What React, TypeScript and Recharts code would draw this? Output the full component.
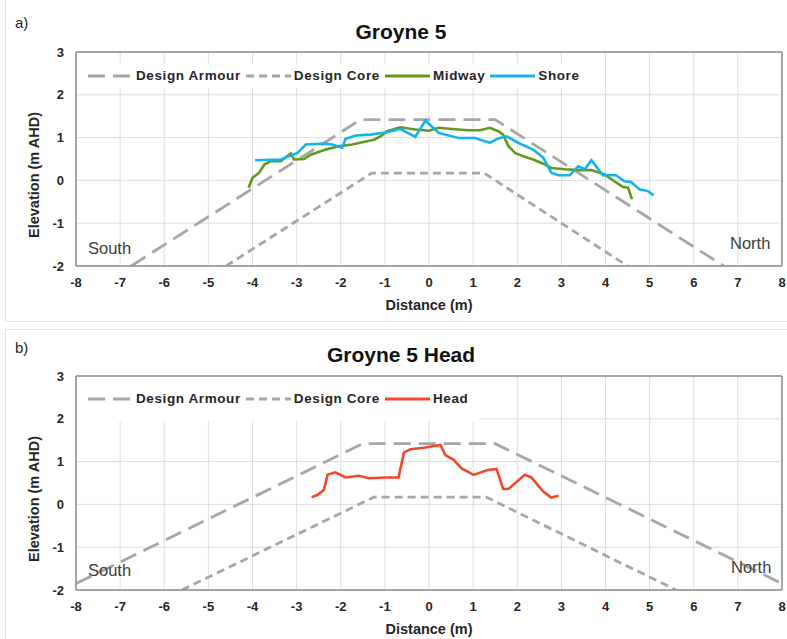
import React from "react"
import {
  CartesianGrid,
  Label,
  Line,
  LineChart,
  ReferenceLine,
  XAxis,
  YAxis,
} from "recharts"

// distance ticks (m) and elevation ticks (m AHD)
const xTicks = [-8, -7, -6, -5, -4, -3, -2, -1, 0, 1, 2, 3, 4, 5, 6, 7, 8]
const yTicks = [-2, -1, 0, 1, 2, 3]

// design profiles, panel a
const armourA = [
  { x: -6.75, y: -2 },
  { x: -1.55, y: 1.42 },
  { x: 1.5, y: 1.42 },
  { x: 6.68, y: -2 },
]
const coreA = [
  { x: -4.6, y: -2 },
  { x: -1.3, y: 0.17 },
  { x: 1.25, y: 0.17 },
  { x: 4.5, y: -2 },
]

// design profiles, panel b
const armourB = [
  { x: -8, y: -1.85 },
  { x: -1.5, y: 1.42 },
  { x: 1.5, y: 1.42 },
  { x: 8, y: -1.85 },
]
const coreB = [
  { x: -5.6, y: -2 },
  { x: -1.25, y: 0.17 },
  { x: 1.3, y: 0.17 },
  { x: 5.6, y: -2 },
]

// surveyed profiles
const midway = [
  { x: -4.09, y: -0.17 }, { x: -4.0, y: 0.06 }, { x: -3.85, y: 0.18 }, { x: -3.73, y: 0.37 },
  { x: -3.58, y: 0.45 }, { x: -3.36, y: 0.45 }, { x: -3.21, y: 0.57 }, { x: -3.13, y: 0.63 },
  { x: -3.06, y: 0.49 }, { x: -2.83, y: 0.5 }, { x: -2.68, y: 0.6 }, { x: -2.34, y: 0.72 },
  { x: -2.04, y: 0.8 }, { x: -1.74, y: 0.84 }, { x: -1.51, y: 0.89 }, { x: -1.25, y: 0.95 },
  { x: -1.1, y: 1.03 }, { x: -0.95, y: 1.15 }, { x: -0.65, y: 1.24 }, { x: -0.31, y: 1.19 },
  { x: 0.0, y: 1.16 }, { x: 0.22, y: 1.23 }, { x: 0.52, y: 1.2 }, { x: 0.89, y: 1.17 },
  { x: 1.16, y: 1.17 }, { x: 1.38, y: 1.23 }, { x: 1.57, y: 1.15 }, { x: 1.68, y: 1.07 },
  { x: 1.8, y: 0.8 }, { x: 1.95, y: 0.64 }, { x: 2.17, y: 0.55 }, { x: 2.36, y: 0.49 },
  { x: 2.59, y: 0.39 }, { x: 2.77, y: 0.29 }, { x: 3.08, y: 0.26 }, { x: 3.38, y: 0.24 },
  { x: 3.68, y: 0.24 }, { x: 3.98, y: 0.14 }, { x: 4.2, y: -0.02 }, { x: 4.39, y: -0.15 },
  { x: 4.51, y: -0.17 }, { x: 4.6, y: -0.44 },
]
const shore = [
  { x: -3.94, y: 0.47 }, { x: -3.36, y: 0.49 }, { x: -3.21, y: 0.55 }, { x: -2.98, y: 0.64 },
  { x: -2.79, y: 0.84 }, { x: -2.38, y: 0.86 }, { x: -2.19, y: 0.84 }, { x: -1.97, y: 0.76 },
  { x: -1.89, y: 0.97 }, { x: -1.66, y: 1.05 }, { x: -1.33, y: 1.07 }, { x: -0.99, y: 1.12 },
  { x: -0.65, y: 1.2 }, { x: -0.31, y: 1.02 }, { x: -0.08, y: 1.4 }, { x: 0.22, y: 1.11 },
  { x: 0.67, y: 0.99 }, { x: 1.04, y: 0.99 }, { x: 1.38, y: 0.88 }, { x: 1.57, y: 0.98 },
  { x: 1.76, y: 1.03 }, { x: 2.02, y: 0.88 }, { x: 2.36, y: 0.72 }, { x: 2.59, y: 0.53 },
  { x: 2.77, y: 0.18 }, { x: 2.93, y: 0.12 }, { x: 3.19, y: 0.12 }, { x: 3.38, y: 0.33 },
  { x: 3.53, y: 0.26 }, { x: 3.68, y: 0.47 }, { x: 3.94, y: 0.12 }, { x: 4.24, y: 0.12 },
  { x: 4.43, y: -0.02 }, { x: 4.58, y: -0.04 }, { x: 4.77, y: -0.21 }, { x: 4.96, y: -0.25 },
  { x: 5.09, y: -0.35 },
]
const head = [
  { x: -2.66, y: 0.17 }, { x: -2.53, y: 0.22 }, { x: -2.38, y: 0.34 }, { x: -2.3, y: 0.69 },
  { x: -2.12, y: 0.75 }, { x: -1.89, y: 0.63 }, { x: -1.59, y: 0.67 }, { x: -1.36, y: 0.61 },
  { x: -0.99, y: 0.63 }, { x: -0.69, y: 0.63 }, { x: -0.57, y: 1.21 }, { x: -0.42, y: 1.29 },
  { x: -0.08, y: 1.33 }, { x: 0.26, y: 1.39 }, { x: 0.37, y: 1.15 }, { x: 0.56, y: 1.04 },
  { x: 0.74, y: 0.84 }, { x: 1.01, y: 0.69 }, { x: 1.31, y: 0.8 }, { x: 1.53, y: 0.83 },
  { x: 1.68, y: 0.36 }, { x: 1.8, y: 0.36 }, { x: 2.17, y: 0.69 }, { x: 2.32, y: 0.63 },
  { x: 2.59, y: 0.3 }, { x: 2.77, y: 0.16 }, { x: 2.94, y: 0.2 },
]

const FONT = "'Liberation Sans', Arial, sans-serif"
const TEXT = "#262626"
const DESIGN = "#a6a6a6"
const ARMOUR_DASH = "17 8"
const CORE_DASH = "8 5"

type Series = { name: string; color: string; dash?: string }

const seriesA: Series[] = [
  { name: "Design Armour", color: DESIGN, dash: ARMOUR_DASH },
  { name: "Design Core", color: DESIGN, dash: CORE_DASH },
  { name: "Midway", color: "#5f9a1d" },
  { name: "Shore", color: "#14b3ec" },
]
const seriesB: Series[] = [
  { name: "Design Armour", color: DESIGN, dash: ARMOUR_DASH },
  { name: "Design Core", color: DESIGN, dash: CORE_DASH },
  { name: "Head", color: "#f4472a" },
]

function LegendBox({ items, padY, top }: { items: Series[]; padY: number; top: number }) {
  return (
    <div
      style={{
        position: "absolute",
        left: 78,
        top,
        display: "flex",
        alignItems: "center",
        background: "#fff",
        padding: `${padY}px 6px ${padY}px 10px`,
        fontFamily: FONT,
        fontWeight: "bold",
        fontSize: 13.5,
        letterSpacing: 0.6,
        color: TEXT,
        lineHeight: "16px",
      }}
    >
      {items.map((s) => (
        <div key={s.name} style={{ display: "flex", alignItems: "center", marginRight: 5 }}>
          <svg width={45} height={6}>
            <line x1={0} y1={3} x2={45} y2={3} stroke={s.color} strokeWidth={3} strokeDasharray={s.dash} />
          </svg>
          <span style={{ marginLeft: 3 }}>{s.name}</span>
        </div>
      ))}
    </div>
  )
}

const tickStyle = { fill: TEXT, fontSize: 13, fontWeight: "bold", fontFamily: FONT }

function YTitle(props: any) {
  const { x, y, height } = props.viewBox
  const cy = y + height / 2 + 16
  return (
    <text
      x={x + 34}
      y={cy}
      transform={`rotate(-90 ${x + 34} ${cy})`}
      textAnchor="middle"
      dominantBaseline="central"
      fill={TEXT}
      fontSize={14.5}
      fontWeight="bold"
      fontFamily={FONT}
    >
      Elevation (m AHD)
    </text>
  )
}

function XTitle(props: any) {
  const { x, y, width } = props.viewBox
  return (
    <text
      x={x + width / 2}
      y={y + 39}
      textAnchor="middle"
      dominantBaseline="central"
      fill={TEXT}
      fontSize={14.5}
      fontWeight="bold"
      fontFamily={FONT}
    >
      Distance (m)
    </text>
  )
}

function Profile({
  height,
  top,
  series,
  lines,
}: {
  height: number
  top: number
  series: Series[]
  lines: { x: number; y: number }[][]
}) {
  return (
    <LineChart width={787} height={height} margin={{ top, right: 5, left: 0, bottom: 0 }}>
      <CartesianGrid stroke="#dedede" strokeWidth={1} />
      <XAxis
        type="number"
        dataKey="x"
        domain={[-8, 8]}
        ticks={xTicks}
        interval={0}
        allowDataOverflow
        height={height - top - 214}
        tickLine={false}
        tickSize={0}
        tickMargin={12}
        tick={tickStyle}
        axisLine={{ stroke: "#8c8c8c", strokeWidth: 1.5 }}
      >
        <Label content={XTitle} />
      </XAxis>
      <YAxis
        type="number"
        dataKey="y"
        domain={[-2, 3]}
        ticks={yTicks}
        interval={0}
        allowDataOverflow
        width={76}
        tickLine={false}
        tickSize={0}
        tickMargin={12}
        tick={tickStyle}
        axisLine={{ stroke: "#8c8c8c", strokeWidth: 1.5 }}
      >
        <Label content={YTitle} />
      </YAxis>
      <ReferenceLine y={3} stroke="#8c8c8c" strokeWidth={1.5} />
      <ReferenceLine x={8} stroke="#8c8c8c" strokeWidth={1.5} />
      {series.map((s, i) => (
        <Line
          key={s.name}
          name={s.name}
          data={lines[i]}
          dataKey="y"
          type="linear"
          stroke={s.color}
          strokeWidth={s.dash ? 2.8 : 2.6}
          strokeDasharray={s.dash}
          dot={false}
          activeDot={false}
          isAnimationActive={false}
        />
      ))}
    </LineChart>
  )
}

const note: React.CSSProperties = {
  position: "absolute",
  fontFamily: FONT,
  fontSize: 16.5,
  color: "#404040",
  lineHeight: "16px",
}
const title: React.CSSProperties = {
  position: "absolute",
  left: 0,
  width: 802,
  textAlign: "center",
  fontFamily: FONT,
  fontWeight: "bold",
  fontSize: 21,
  color: "#111",
  lineHeight: "22px",
}
const panelTag: React.CSSProperties = {
  position: "absolute",
  left: 15,
  fontFamily: FONT,
  fontSize: 15,
  color: "#262626",
  lineHeight: "16px",
}

export default function App() {
  return (
    <div style={{ position: "absolute", left: 0, top: 0, width: 787, height: 639, background: "#fff", overflow: "hidden" }}>
      <div style={{ position: "absolute", left: 5, top: -2, width: 800, height: 322, border: "1px solid #e2e2e2" }} />
      <div style={{ position: "absolute", left: 5, top: 329, width: 800, height: 320, border: "1px solid #e2e2e2" }} />

      <div style={{ position: "absolute", left: 0, top: 0 }}>
        <Profile height={321} top={52} series={seriesA} lines={[armourA, coreA, midway, shore]} />
      </div>
      <div style={{ position: "absolute", left: 0, top: 322 }}>
        <Profile height={317} top={54} series={seriesB} lines={[armourB, coreB, head]} />
      </div>

      <LegendBox items={seriesA} padY={4} top={64} />
      <LegendBox items={seriesB} padY={14} top={377} />

      <div style={{ ...panelTag, top: 15 }}>a)</div>
      <div style={{ ...panelTag, top: 340 }}>b)</div>
      <div style={{ ...title, top: 21 }}>Groyne 5</div>
      <div style={{ ...title, top: 344 }}>Groyne 5 Head</div>

      <div style={{ ...note, left: 88, top: 240 }}>South</div>
      <div style={{ ...note, left: 730, top: 235 }}>North</div>
      <div style={{ ...note, left: 88, top: 562 }}>South</div>
      <div style={{ ...note, left: 731, top: 559 }}>North</div>
    </div>
  )
}
